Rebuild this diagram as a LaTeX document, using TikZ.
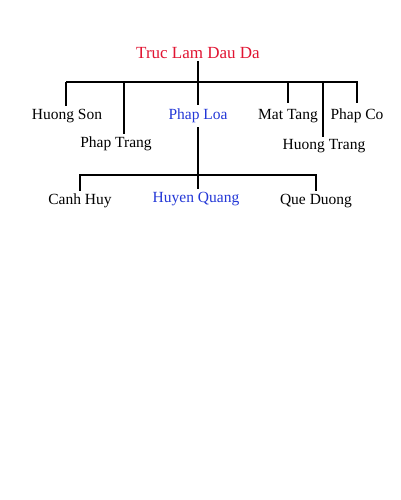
\documentclass[tikz,border=0pt]{standalone}
\usepackage{fontspec}
\setmainfont{Liberation Serif}
\definecolor{rootred}{RGB}{225,20,50}
\definecolor{keyblue}{RGB}{35,55,215}
\begin{document}
\begin{tikzpicture}[x=1pt,y=-1pt,
  person/.style={font=\fontsize{15.5}{17}\selectfont, inner sep=0pt, anchor=center, text=black},
  keyperson/.style={person, text=keyblue},
  link/.style={line width=2pt, black}]
\useasboundingbox[fill=white] (0,0) rectangle (400,500);
% root
\node[person, font=\fontsize{17}{19}\selectfont, text=rootred] (root) at (198,53) {Truc Lam Dau Da};
% first level
\node[person] (hs) at (67,116) {Huong Son};
\node[person] (pt) at (116,144) {Phap Trang};
\node[keyperson] (pl) at (198,116) {Phap Loa};
\node[person] (mt) at (288,116) {Mat Tang};
\node[person] (ht) at (324,146) {Huong Trang};
\node[person] (pc) at (357,116) {Phap Co};
% second level
\node[person] (ch) at (80,201) {Canh Huy};
\node[keyperson] (hq) at (196,199) {Huyen Quang};
\node[person] (qd) at (316,201) {Que Duong};
% connectors
\coordinate (b1) at (198,82);
\coordinate (l1) at (66,82);
\coordinate (r1) at (358,82);
\draw[link] (root.south -| b1) ++(0,2) -- (b1);
\draw[link] (l1) -- (r1);
\draw[link] (l1) -- (66,106);
\draw[link] (124,82) -- (124,134);
\draw[link] (b1) -- (198,105);
\draw[link] (288,82) -- (288,103);
\draw[link] (323,82) -- (323,137);
\draw[link] (357,82) -- (357,103);
\coordinate (b2) at (198,175);
\draw[link] (198,127) -- (b2);
\draw[link] (80,175) -- (316,175);
\draw[link] (80,174) -- (80,191);
\draw[link] (b2) -- (198,189);
\draw[link] (316,174) -- (316,191);
\end{tikzpicture}
\end{document}
